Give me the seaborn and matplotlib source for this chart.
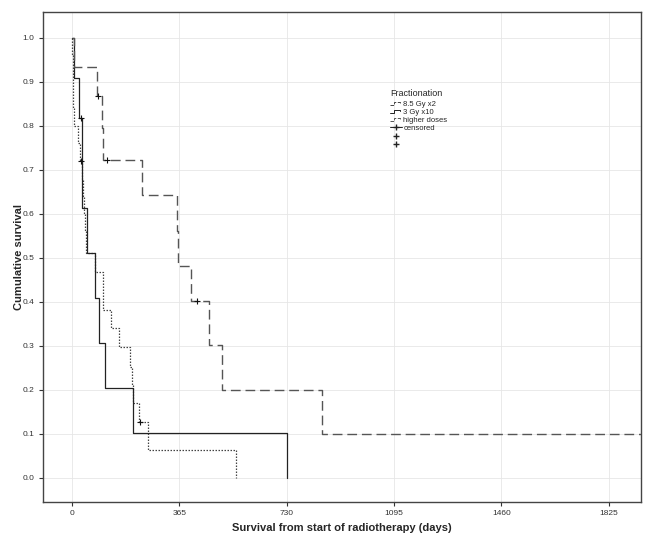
import numpy as np
import pandas as pd
import matplotlib
matplotlib.use("Agg")
import matplotlib.pyplot as plt
import seaborn as sns
from matplotlib.lines import Line2D
from matplotlib.legend_handler import HandlerBase

# Kaplan-Meier steps (days, cumulative survival)
dose_8_5_t = [0, 1, 2, 3, 4, 5, 20, 27, 35, 38, 40, 44, 48, 77, 104, 133, 160, 196, 205, 207, 227, 258, 556]
dose_8_5_s = [1.0, 0.96, 0.92, 0.88, 0.84, 0.80, 0.76, 0.72, 0.68, 0.64, 0.60, 0.56, 0.511, 0.467, 0.382,
              0.340, 0.297, 0.253, 0.211, 0.170, 0.128, 0.064, 0.0]
dose_3_t = [0, 5, 22, 33, 35, 50, 77, 92, 113, 206, 730]
dose_3_s = [1.0, 0.909, 0.818, 0.716, 0.614, 0.511, 0.409, 0.307, 0.205, 0.102, 0.0]
higher_t = [0, 5, 84, 102, 106, 238, 355, 360, 405, 465, 508, 851, 1940]
higher_s = [1.0, 0.933, 0.867, 0.794, 0.722, 0.642, 0.562, 0.482, 0.401, 0.301, 0.200, 0.100, 0.100]

# censored observations
cens_t = [29, 30, 232, 88, 118, 425]
cens_s = [0.72, 0.818, 0.128, 0.867, 0.722, 0.401]

groups = ["8.5 Gy x2", "3 Gy x10", "higher doses"]
x_ticks = [0, 365, 730, 1095, 1460, 1825]
y_ticks = [0.0, 0.1, 0.2, 0.3, 0.4, 0.5, 0.6, 0.7, 0.8, 0.9, 1.0]

sns.set_theme(style="whitegrid")
plt.rcParams["font.family"] = ["Liberation Sans Narrow", "Liberation Sans", "DejaVu Sans"]

fig = plt.figure(figsize=(6.69, 5.53), dpi=100)
ax = fig.add_axes([0.064, 0.092, 0.894, 0.886])

styles = {
    "8.5 Gy x2": dict(color="#444444", lw=0.9, dashes=(1.2, 1.2)),
    "3 Gy x10": dict(color="#222222", lw=0.9, dashes=()),
    "higher doses": dict(color="#555555", lw=1.0, dashes=(7, 3.5)),
}
data = {
    "8.5 Gy x2": (dose_8_5_t, dose_8_5_s),
    "3 Gy x10": (dose_3_t, dose_3_s),
    "higher doses": (higher_t, higher_s),
}

for g in groups:
    t, s = data[g]
    df = pd.DataFrame({"days": t, "surv": s})
    st = styles[g]
    sns.lineplot(data=df, x="days", y="surv", ax=ax, estimator=None, sort=False,
                 drawstyle="steps-post", color=st["color"], lw=st["lw"])
    if st["dashes"]:
        ax.lines[-1].set_dashes(st["dashes"])

cens = pd.DataFrame({"days": cens_t, "surv": cens_s})
sns.scatterplot(data=cens, x="days", y="surv", ax=ax, marker="+", s=18, color="#111111",
                linewidth=0.8, zorder=5)

ax.set_xlim(-100, 1935)
ax.set_ylim(-0.055, 1.058)
ax.set_xticks(x_ticks)
ax.set_yticks(y_ticks)
ax.set_xticklabels([str(v) for v in x_ticks])
ax.set_yticklabels([f"{v:.1f}" for v in y_ticks])
ax.tick_params(axis="both", labelsize=6, colors="#333333", length=3, width=0.8, direction="out",
               bottom=True, left=True, pad=3)
ax.grid(True, color="#e6e6e6", lw=0.6)
for sp in ax.spines.values():
    sp.set_color("#444444")
    sp.set_linewidth(1.0)

ax.set_xlabel("Survival from start of radiotherapy (days)", fontsize=8, fontweight="bold")
ax.set_ylabel("Cumulative survival", fontsize=8, fontweight="bold")
ax.xaxis.set_label_coords(0.5, -0.042)
ax.yaxis.set_label_coords(-0.032, 0.5)


class StepHandler(HandlerBase):
    def create_artists(self, legend, orig, xd, yd, width, height, fontsize, trans):
        w = width * 0.95
        x = [-xd, -xd + w * 0.4, -xd + w * 0.4, -xd + w * 0.85, -xd + w * 0.85]
        y = [height * 0.2, height * 0.2, height * 0.75, height * 0.75, height * 0.5]
        ln = Line2D(x, y, color=orig.get_color(), lw=orig.get_linewidth(), transform=trans)
        ln.set_linestyle(orig.get_linestyle())
        return [ln]


h_dot = Line2D([], [], color="#444444", lw=0.7, linestyle=(0, (1, 1)))
h_sol = Line2D([], [], color="#222222", lw=0.7)
h_das = Line2D([], [], color="#555555", lw=0.7, linestyle=(0, (2.5, 1.2)))
h_c1 = Line2D([], [], color="#222222", lw=0.7, marker="+", markersize=5)
h_c2 = Line2D([], [], color="#222222", lw=0, marker="+", markersize=5)
h_c3 = Line2D([], [], color="#222222", lw=0, marker="+", markersize=5)

leg = ax.legend([h_dot, h_sol, h_das, h_c1, h_c2, h_c3],
                ["8.5 Gy x2", "3 Gy x10", "higher doses", "censored", "", ""],
                title="Fractionation", loc="upper left", bbox_to_anchor=(0.575, 0.85),
                frameon=False, fontsize=5.5, title_fontsize=6.5, handlelength=1.6,
                handletextpad=0.15, labelspacing=0.1, borderaxespad=0,
                handler_map={h_dot: StepHandler(), h_sol: StepHandler(), h_das: StepHandler()})
leg._legend_box.align = "left"
leg._legend_box.sep = 2

fig.savefig("out.png", dpi=100)
